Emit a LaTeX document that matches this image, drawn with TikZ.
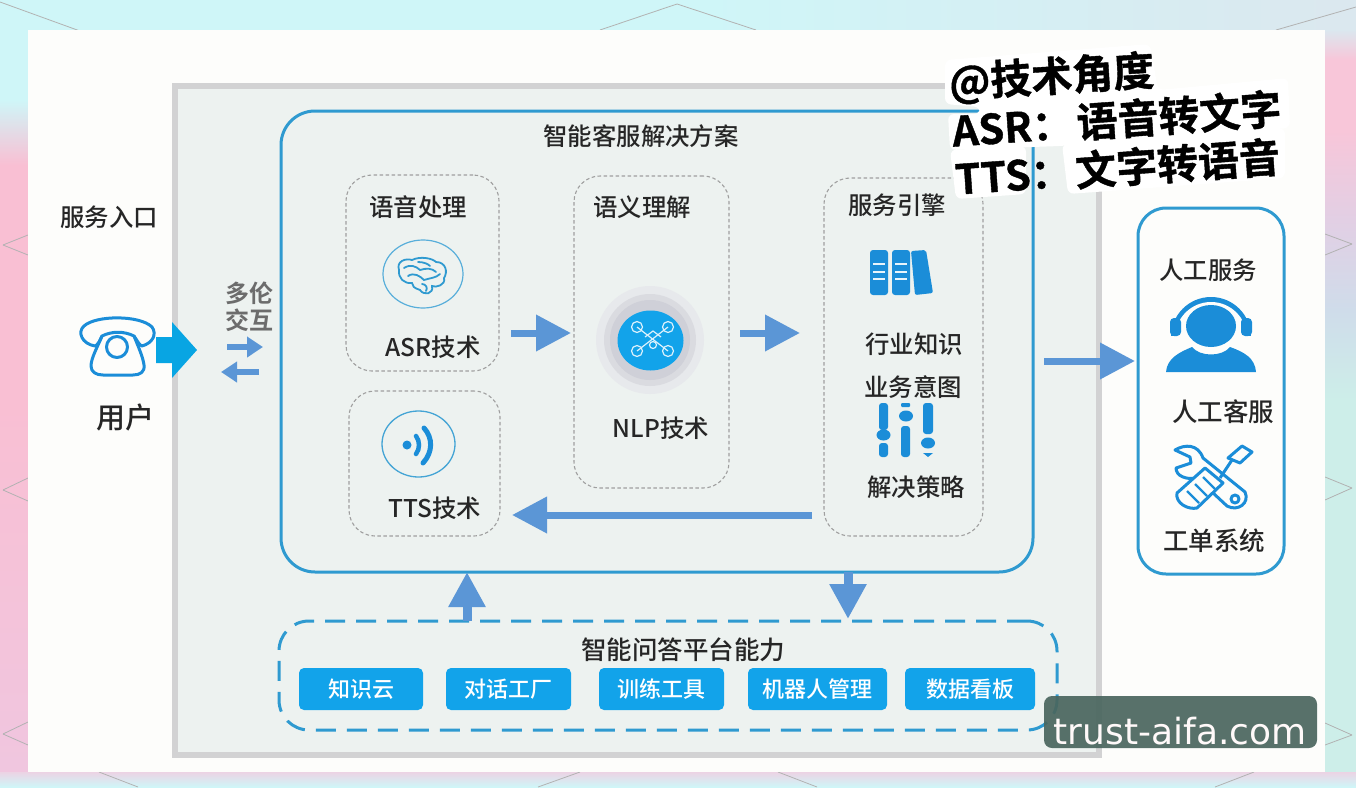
\documentclass[tikz,border=0pt]{standalone}
\usepackage{fontspec}
\setmainfont{Noto Sans CJK SC Medium}
\newfontfamily\boldcjk{Noto Sans CJK SC Bold}
\newfontfamily\heavycjk[FakeBold=1]{Noto Sans CJK SC Bold}
\newfontfamily\wm{DejaVu Sans}
\usetikzlibrary{arrows.meta,calc}
\definecolor{panelbg}{HTML}{FDFDFB}
\definecolor{grayfill}{HTML}{EDF2F0}
\definecolor{grayline}{HTML}{D2D2D3}
\definecolor{blueline}{HTML}{2F9AD0}
\definecolor{arrowblue}{HTML}{5B96D6}
\definecolor{iconblue}{HTML}{1B8DD8}
\definecolor{btnblue}{HTML}{12A3EA}
\definecolor{entryblue}{HTML}{08A5E3}
\definecolor{cyanbg}{HTML}{CFF6F8}
\definecolor{pinkbg}{HTML}{F9BFD3}
\definecolor{lilacbg}{HTML}{F0C6DF}
\definecolor{rpink}{HTML}{F8C6D9}
\definecolor{rlilac}{HTML}{E2CFE4}
\definecolor{rblue}{HTML}{CFDCEA}
\definecolor{rgreen}{HTML}{CDEEE9}
\definecolor{botpink}{HTML}{ECD3E4}
\definecolor{txt}{HTML}{262626}
\definecolor{wmcol}{HTML}{4A665E}
\definecolor{glowa}{HTML}{E7E9EC}
\definecolor{glowb}{HTML}{DADBE0}
\definecolor{glowc}{HTML}{CFD0D8}
\tikzset{
 x=1pt,y=-1pt,
 box/.style={rectangle,inner sep=0pt,outer sep=0pt},
 dbox/.style={box,draw=gray!75,dashed,dash pattern=on 3.5pt off 2.5pt,line width=1.1pt,rounded corners=26pt},
 sbox/.style={box,draw=blueline,line width=3pt,rounded corners=34pt},
 lab/.style={inner sep=0pt,text=txt,font=\fontsize{24.4}{24}\selectfont},
 btn/.style={box,fill=btnblue,rounded corners=5pt,text=white,minimum height=42pt,font=\fontsize{22}{22}\selectfont},
 arr/.style={draw=arrowblue,line width=7pt,-{Triangle[length=35pt,width=35pt,fill=arrowblue]}},
 smallarr/.style={draw=arrowblue,line width=6pt,-{Triangle[length=16pt,width=20pt,fill=arrowblue]}},
 bgline/.style={draw=gray!60,line width=.8pt},
 tilt/.style={inner sep=0pt,anchor=west,text=black,font=\heavycjk\fontsize{41}{41}\selectfont},
}
\begin{document}
\begin{tikzpicture}
\useasboundingbox (0,0) rectangle (1356,787);
% background
\fill[cyanbg] (0,0) rectangle (1356,787);
\shade[left color=cyanbg,right color=cyanbg!70!rpink] (700,0) rectangle (1356,30);
\shade[top color=cyanbg,bottom color=pinkbg] (0,100) rectangle (30,165);
\fill[pinkbg] (0,165) rectangle (30,400);
\shade[top color=pinkbg,bottom color=lilacbg] (0,400) rectangle (30,772);
\shade[top color=cyanbg!70!rpink,bottom color=rpink] (1322,30) rectangle (1356,60);
\fill[rpink] (1322,60) rectangle (1356,130);
\shade[top color=rpink,bottom color=rlilac] (1322,130) rectangle (1356,220);
\shade[top color=rlilac,bottom color=rblue] (1322,220) rectangle (1356,310);
\shade[top color=rblue,bottom color=rgreen] (1322,310) rectangle (1356,400);
\fill[rgreen] (1322,400) rectangle (1356,772);
\shade[top color=botpink,bottom color=cyanbg] (0,772) rectangle (1356,787);
\foreach \a/\b/\c/\d in {0/2/80/31, 1356/7/1276/30, 600/30/677/4, 677/4/756/30,
 3/245/28/235, 3/245/28/255, 3/490/28/478, 3/490/28/501, 3/734/28/722, 3/734/28/745,
 1352/244/1325/234, 1352/244/1325/255, 1352/488/1325/477, 1352/488/1325/500, 1352/735/1325/723, 1352/735/1325/745,
 99/772/138/787, 580/772/538/787, 778/772/817/787, 1254/772/1215/787}
  \draw[bgline] (\a,\b) -- (\c,\d);
% panels
\node[box,fill=panelbg,minimum width=1297pt,minimum height=742pt] (panel) at (676.5,401) {};
\node[box,fill=grayfill,draw=grayline,line width=6pt,minimum width=924pt,minimum height=669pt] (graypanel) at (637,420.5) {};
\node[box,sbox,minimum width=752pt,minimum height=461pt] (solution) at (657,341.5) {};
\node[lab] (solutiont) at (641,136) {智能客服解决方案};
% dashed groups
\node[dbox,minimum width=153pt,minimum height=196pt] (asrbox) at (422.5,273) {};
\node[dbox,minimum width=151pt,minimum height=145pt] (ttsbox) at (424.5,463.5) {};
\node[dbox,minimum width=155pt,minimum height=312pt] (nlpbox) at (651.5,332) {};
\node[dbox,minimum width=159pt,minimum height=358pt] (enginebox) at (903.5,357) {};
\node[box,sbox,fill=panelbg,rounded corners=28pt,minimum width=146pt,minimum height=366pt] (human) at (1211,391) {};
\node[box,draw=blueline,line width=3pt,dash pattern=on 20pt off 11pt,rounded corners=30pt,minimum width=778pt,minimum height=109pt] (platform) at (668,675.5) {};
% labels
\node[lab] (l1) at (109,217) {服务入口};
\node[lab,font=\fontsize{29}{29}\selectfont] (l2) at (125,417) {用户};
\node[lab,text=gray!85!black,font=\boldcjk\fontsize{24}{24}\selectfont] (l3) at (249,293) {多伦};
\node[lab,text=gray!85!black,font=\boldcjk\fontsize{24}{24}\selectfont] (l4) at (249,320) {交互};
\node[lab] (l5) at (418,207) {语音处理};
\node[lab] (l6) at (433,347) {ASR技术};
\node[lab] (l7) at (435,508) {TTS技术};
\node[lab] (l8) at (642,207) {语义理解};
\node[lab] (l9) at (661,428) {NLP技术};
\node[lab] (l10) at (897,205) {服务引擎};
\node[lab] (l11) at (914,344) {行业知识};
\node[lab] (l12) at (913,387) {业务意图};
\node[lab] (l13) at (916,487) {解决策略};
\node[lab] (l14) at (1208,270) {人工服务};
\node[lab,font=\fontsize{25.5}{25}\selectfont] (l15) at (1223,412) {人工客服};
\node[lab,font=\fontsize{25.5}{25}\selectfont] (l16) at (1214,541) {工单系统};
\node[lab,font=\fontsize{25.5}{25}\selectfont] (l17) at (683,650) {智能问答平台能力};
% buttons
\node[btn,minimum width=124pt] (b1) at (361,689) {知识云};
\node[btn,minimum width=125pt] (b2) at (508.5,689) {对话工厂};
\node[btn,minimum width=125pt] (b3) at (661.5,689) {训练工具};
\node[btn,minimum width=139pt] (b4) at (817.5,689) {机器人管理};
\node[btn,minimum width=130pt] (b5) at (970,689) {数据看板};
% connector rows
\coordinate (r1) at (0,333);
\coordinate (r2) at (0,515);
\coordinate (r3) at (0,361);
\coordinate (c1) at (467,0);
\coordinate (c2) at (848,0);
\draw[arr,shorten <=12pt,shorten >=3pt] (asrbox.east |- r1) -- (nlpbox.west |- r1);
\draw[arr,shorten <=11pt,shorten >=24pt] (nlpbox.east |- r1) -- (enginebox.west |- r1);
\draw[arr,shorten <=12pt,shorten >=12pt] (enginebox.west |- r2) -- (ttsbox.east |- r2);
\draw[arr,shorten <=11pt,shorten >=3pt] (solution.east |- r3) -- (human.west |- r3);
\draw[arr,line width=9pt] (platform.north -| c1) -- (solution.south -| c1);
\draw[arr,line width=9pt,shorten >=2pt] (solution.south -| c2) -- (platform.north -| c2);
\coordinate (s1) at (227,347); \coordinate (s2) at (263,347);
\coordinate (s3) at (259,372); \coordinate (s4) at (221,372);
\draw[smallarr] (s1) -- (s2);
\draw[smallarr] (s3) -- (s4);
% big entry arrow
\fill[entryblue] (156,337) -- (172,337) -- (172,322) -- (197,350) -- (172,378) -- (172,363) -- (156,363) -- cycle;
% phone icon
\begin{scope}[draw=iconblue,line width=3pt,line join=round]
\draw (95,346) .. controls (82,344) and (77,332) .. (84,326) .. controls (96,315) and (140,315) .. (152,327) .. controls (157,334) and (153,343) .. (142,346) .. controls (139,345) and (137,340) .. (134,336) .. controls (124,331) and (112,331) .. (102,336) .. controls (100,340) and (98,345) .. (95,346) -- cycle;
\draw (102,336) .. controls (98,346) and (91,358) .. (91,366) .. controls (91,372) and (96,375) .. (103,375) -- (133,375) .. controls (140,375) and (145,372) .. (144,365) .. controls (143,357) and (138,346) .. (134,336);
\draw (117,347) circle[radius=10.5pt];
\end{scope}
% brain icon
\draw[blueline!80,line width=1.2pt] (423,274) ellipse[x radius=40pt,y radius=34pt];
\begin{scope}[draw=blueline,line width=1.8pt,line cap=round]
\draw (399,270) .. controls (396,261) and (406,258) .. (412,260) .. controls (420,256) and (432,258) .. (436,262) .. controls (446,262) and (448,272) .. (444,278) .. controls (446,285) and (436,288) .. (432,286) .. controls (434,294) and (424,296) .. (420,290) .. controls (414,288) and (412,286) .. (412,283) .. controls (404,284) and (398,278) .. (399,270);
\draw (404,268) .. controls (410,264) and (416,266) .. (420,270) .. controls (426,268) and (432,268) .. (436,272);
\draw (408,276) .. controls (414,272) and (420,276) .. (424,280) .. controls (430,278) and (436,278) .. (440,274);
\draw (418,262) .. controls (424,262) and (428,264) .. (430,266);
\draw (422,284) .. controls (426,284) and (428,288) .. (426,291);
\end{scope}
% sound icon
\draw[blueline!90,line width=1.3pt] (418.5,444) ellipse[x radius=36.5pt,y radius=33pt];
\fill[iconblue] (407,445) circle[radius=4.5pt];
\draw[iconblue,line width=4.5pt,line cap=round] (416,436) .. controls (420,441) and (420,449) .. (416,454);
\draw[iconblue,line width=5pt,line cap=round] (424,428) .. controls (433,438) and (433,452) .. (423,463);
% NLP icon
\fill[glowa] (650,340) circle[radius=54pt];
\fill[glowb] (650,340) circle[radius=46pt];
\fill[glowc] (650,340) circle[radius=40pt];
\fill[btnblue] (650.5,340.5) ellipse[x radius=33pt,y radius=30pt];
\begin{scope}[draw=white!85!btnblue,line width=1.2pt]
\foreach \p/\q in {637/327, 668/327, 637/351, 668/351}{
  \draw (\p,\q) circle[radius=5.5pt];
  \draw (\p,\q) -- (652.5,339);
}
\draw (653,345) circle[radius=3.5pt];
\draw (645,337) -- (653,331) -- (661,337);
\end{scope}
% books icon
\begin{scope}
\fill[iconblue,rounded corners=3pt] (870,250) rectangle (888,295);
\fill[iconblue,rounded corners=3pt] (892,250) rectangle (910,295);
\fill[iconblue,rounded corners=2pt] (911,251) -- (926,250) -- (933,293) -- (915,295) -- cycle;
\foreach \y in {264,272,279}{
  \draw[white!90!iconblue,line width=2pt] (873,\y) -- (885,\y);
  \draw[white!90!iconblue,line width=2pt] (895,\y) -- (907,\y);
}
\end{scope}
% slider icon
\begin{scope}[iconblue]
\fill[rounded corners=3pt] (879,403) rectangle (888,430);
\fill[rounded corners=3pt] (879,443) rectangle (888,457);
\fill (883.5,435) ellipse[x radius=7pt,y radius=5.5pt];
\fill[rounded corners=1pt] (901,403) rectangle (910,407);
\fill (906,416) ellipse[x radius=7pt,y radius=5.5pt];
\fill[rounded corners=3pt] (901,426) rectangle (910,457);
\fill[rounded corners=3pt] (923,403) rectangle (933,434);
\fill (928,443) ellipse[x radius=7pt,y radius=5.5pt];
\fill (923,453) -- (933,453) -- (928,457) -- cycle;
\end{scope}
% headset icon
\begin{scope}
\fill[iconblue] (1211,337) circle[radius=40pt];
\fill[panelbg] (1211,338) circle[radius=36pt];
\fill[panelbg] (1165,336) rectangle (1257,380);
\fill[iconblue,rounded corners=4pt] (1170,318) rectangle (1181,336);
\fill[iconblue,rounded corners=4pt] (1241,318) rectangle (1252,336);
\fill[iconblue] (1211,326) ellipse[x radius=25pt,y radius=21pt];
\fill[iconblue] (1166,372) .. controls (1167,358) and (1180,352) .. (1192,347) .. controls (1200,357) and (1222,357) .. (1230,347) .. controls (1244,352) and (1255,358) .. (1256,372) -- cycle;
\end{scope}
% tools icon
\begin{scope}[draw=iconblue,line width=3pt,line join=round]
\draw (1175,450) .. controls (1185,444) and (1198,444) .. (1203,458) -- (1245,492) .. controls (1250,503) and (1238,512) .. (1227,506) -- (1197,478) .. controls (1186,480) and (1176,476) .. (1176,468) -- (1191,463) -- (1190,457) -- cycle;
\draw (1235,499) circle[radius=4pt];
\draw (1220,478) -- (1232,460);
\draw[fill=panelbg] (1228,458) -- (1242,446) -- (1252,452) -- (1240,463) -- cycle;
\draw[fill=panelbg] (1177,493) -- (1205,468) -- (1223,483) -- (1197,508) .. controls (1188,510) and (1175,503) .. (1177,493) -- cycle;
\draw[line width=2.2pt] (1187,491) -- (1199,503);
\draw[line width=2.2pt] (1195,484) -- (1207,496);
\draw[line width=2.2pt] (1203,477) -- (1215,489);
\end{scope}
% annotation backing
\fill[white,rounded corners=6pt] (945,60) -- (1150,44) -- (1158,90) -- (1288,78) -- (1290,128) -- (1060,146) -- (950,150) -- (948,114) -- (980,114) -- (980,107) -- (945,104) -- cycle;
\fill[white,rounded corners=6pt] (1062,144) -- (1285,128) -- (1285,178) -- (1068,194) -- cycle;
\fill[white,rounded corners=6pt] (950,150) -- (1026,146) -- (1026,194) -- (956,199) -- cycle;
% annotation
\node[tilt,rotate=3.5] (t1) at (949,84) {@技术角度};
\node[tilt,rotate=4] (t2) at (952,131) {ASR：\hspace{4pt}语音转文字};
\node[tilt,rotate=4] (t3) at (955,179) {TTS：\hspace{4pt}文字转语音};
% watermark
\node[box,fill=wmcol,fill opacity=.92,rounded corners=8pt,minimum width=273pt,minimum height=52pt] (wmbox) at (1180.5,722) {};
\node[inner sep=0pt,text=white!90!pink,font=\wm\fontsize{36}{36}\selectfont] (wmt) at (1180,731) {trust-aifa.com};
\end{tikzpicture}
\end{document}
